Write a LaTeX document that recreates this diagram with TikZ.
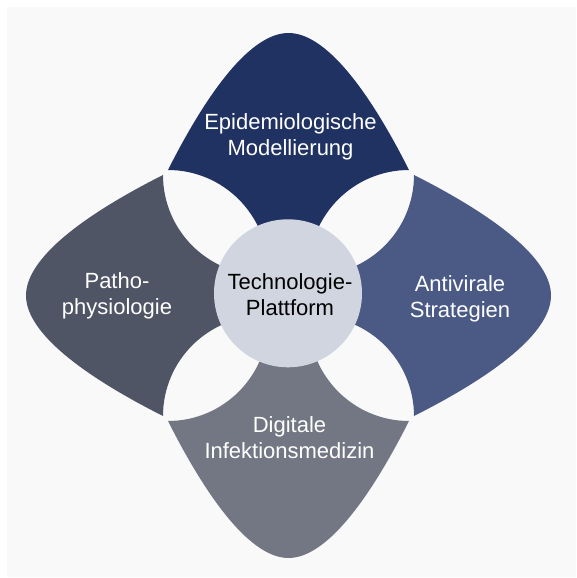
\documentclass[tikz,border=0pt]{standalone}
\usepackage{fontspec}
\setmainfont{Liberation Sans}
\usetikzlibrary{positioning}
\definecolor{pagegray}{RGB}{249,249,249}
\definecolor{petalnavy}{RGB}{31,50,98}
\definecolor{petalblue}{RGB}{74,90,133}
\definecolor{petalgray}{RGB}{114,119,131}
\definecolor{petalslate}{RGB}{79,85,101}
\definecolor{hubgray}{RGB}{208,213,224}
\tikzset{
  petal/.pic={
    \path[pic actions] (-120.5,125.5) .. controls (-88,190) and (-42,262.5) .. (0,262.5)
      .. controls (42,262.5) and (88,190) .. (120.5,125.5)
      .. controls (65.3,125.5) and (20.5,80.7) .. (20.5,25.5)
      -- (-20.5,25.5)
      .. controls (-20.5,80.7) and (-65.3,125.5) .. (-120.5,125.5) -- cycle;
  },
  petaltext/.style={font=\fontsize{22}{26}\selectfont, align=center, text=white},
  hubtext/.style={font=\fontsize{22}{26}\selectfont, align=center, text=black}
}

\begin{document}
\begin{tikzpicture}[x=1pt,y=1pt]
  \useasboundingbox (-288.5,-282.5) rectangle (287.5,295.5);
  % Page background
  \fill[white] (-288.5,-282.5) rectangle (287.5,295.5);
  \fill[pagegray] (-281.5,-281.5) rectangle (287.5,288.5);
  % Four petals
  \pic[fill=petalnavy] at (0,0) {petal};
  \pic[fill=petalslate, rotate=90] at (0,0) {petal};
  \pic[fill=petalgray, rotate=180] at (0,0) {petal};
  \pic[fill=petalblue, rotate=-90] at (0,0) {petal};
  % Hub circle
  \fill[hubgray] (-0.5,2.2) circle (74);
  % Labels
  \node[petaltext] (epi) at (2,158.3) {Epidemiologische\\Modellierung};
  \node[petaltext] (patho) at (-171.5,-0.2) {Patho-\\physiologie};
  \node[petaltext] (anti) at (171.5,-3.5) {Antivirale\\Strategien};
  \node[petaltext] (digi) at (1,-142.5) {Digitale\\Infektionsmedizin};
  \node[hubtext] (tech) at (1.5,1.3) {Technologie-\\Plattform};
\end{tikzpicture}
\end{document}
